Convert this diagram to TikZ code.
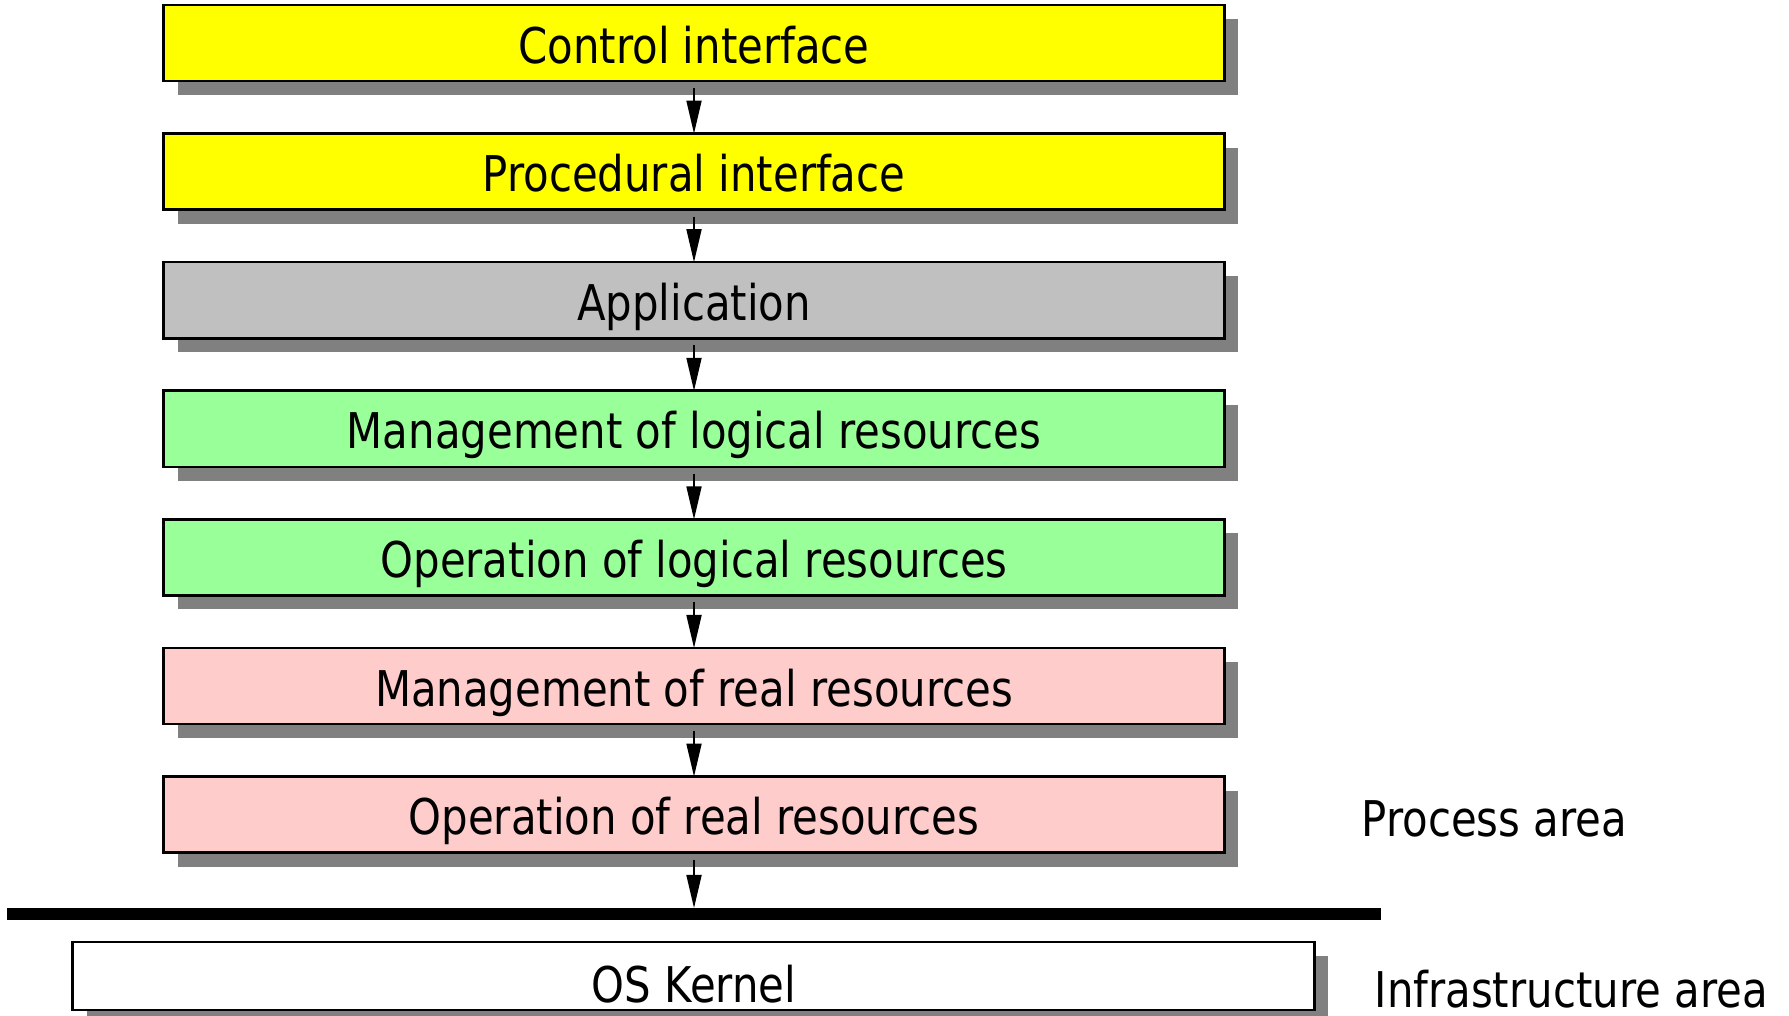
\documentclass[tikz,border=0pt]{standalone}
\usepackage{fontspec}
\setmainfont[FakeStretch=0.85]{DejaVu Sans}
\usetikzlibrary{arrows.meta, shadows}

\definecolor{ifyellow}{HTML}{FFFF00}
\definecolor{appgray}{HTML}{C0C0C0}
\definecolor{logicgreen}{HTML}{99FF99}
\definecolor{realpink}{HTML}{FFCCCC}
\definecolor{shadowgray}{HTML}{808080}

\tikzset{
  layer/.style={draw=black, line width=0.75pt, minimum width=10.6cm, minimum height=0.76cm,
    inner sep=0pt, outer sep=0pt, text height=0.4cm, text depth=0cm,
    font=\fontsize{14}{16}\selectfont,
    drop shadow={shadow xshift=0.14cm, shadow yshift=-0.14cm, fill=shadowgray, opacity=1}},
  flow/.style={-{Triangle[length=3.3mm,width=1.5mm]}, line width=0.5pt, shorten <=0.07cm},
  area/.style={anchor=base west, inner sep=0pt, font=\fontsize{14}{16}\selectfont}
}

\begin{document}
\begin{tikzpicture}[x=0.01cm, y=-0.01cm]
  \useasboundingbox (0,0) rectangle (1789,1016);

  % Layers of the process area
  \node[layer, fill=ifyellow]   (ctrl) at (694,43)    {Control interface};
  \node[layer, fill=ifyellow]   (proc) at (694,171.6) {Procedural interface};
  \node[layer, fill=appgray]    (app)  at (694,300.2) {Application};
  \node[layer, fill=logicgreen] (mlog) at (694,428.8) {Management of logical resources};
  \node[layer, fill=logicgreen] (olog) at (694,557.4) {Operation of logical resources};
  \node[layer, fill=realpink]   (mreal) at (694,686)  {Management of real resources};
  \node[layer, fill=realpink]   (oreal) at (694,814.6) {Operation of real resources};

  % Calls downwards
  \draw[flow] (ctrl.south) -- (proc.north);
  \draw[flow] (proc.south) -- (app.north);
  \draw[flow] (app.south) -- (mlog.north);
  \draw[flow] (mlog.south) -- (olog.north);
  \draw[flow] (olog.south) -- (mreal.north);
  \draw[flow] (mreal.south) -- (oreal.north);

  % Boundary to the kernel
  \coordinate (barleft) at (7,914);
  \coordinate (barright) at (1381,914);
  \coordinate (bartop) at (694,908);
  \draw[line width=0.12cm] (barleft) -- (barright);
  \draw[flow] (oreal.south) -- (bartop);

  % Kernel box (cut off at the bottom)
  \node[layer, fill=white, minimum width=12.41cm, minimum height=0.68cm] (kernel) at (693.5,976) {};
  \node[area, anchor=base] (kerneltext) at (694,1002) {OS Kernel};

  % Area labels
  \node[area] (procarea) at (1361,836) {Process area};
  \node[area] (infraarea) at (1374,1007) {Infrastructure area};

\end{tikzpicture}
\end{document}
